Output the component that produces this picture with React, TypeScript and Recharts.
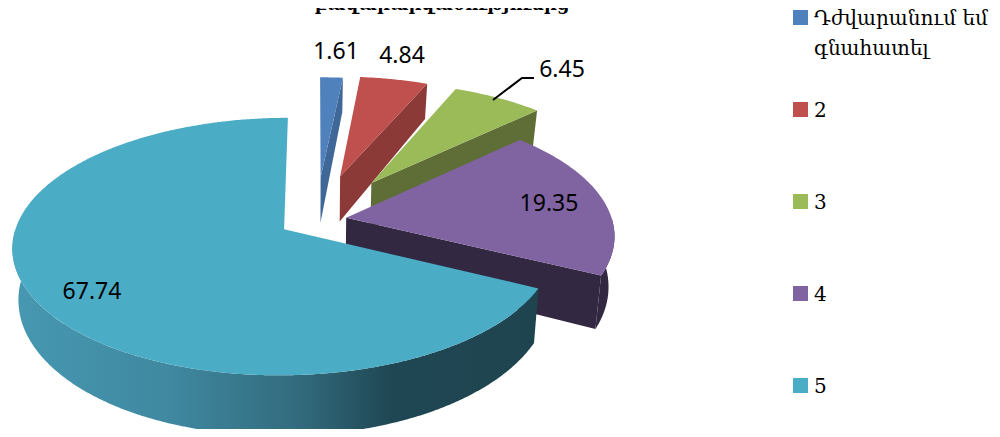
import React from "react";
import { PieChart, Pie, Legend } from "recharts";

const categories = ["Դժվարանում եմ գնահատել", "2", "3", "4", "5"];
const values = [1.61, 4.84, 6.45, 19.35, 67.74];
const chartTitle = "բավարարվածությունից";

// colours and how far each slice is pulled out of the pie
const faceColors = ["#4F81BD", "#C0504D", "#9BBB59", "#8064A2", "#4BACC6"];
const wallColors = ["#3F6898", "#8C3A37", "#5E6E36", "#332842", "url(#tealWall)"];
const explode = [0.36, 0.38, 0.38, 0.115, 0.14];
const labelSpots = [
  [336, 59],
  [402, 63],
  [562, 77],
  [549, 211],
  [92, 299],
];

const data = categories.map((name, i) => ({
  name,
  value: values[i],
  fill: faceColors[i],
  wall: wallColors[i],
  explode: explode[i],
}));

const TILT = 0.466; // vertical squash of the disc
const PERSP = 0.133; // back of the disc is smaller than the front
const DEPTH = 49;

function Slice3D(props: any) {
  const { cx, cy, outerRadius, startAngle, endAngle, fill, wall } = props;
  const boom = props.explode ?? 0;
  // recharts angles -> clockwise from the top
  const a0 = 90 - startAngle;
  const a1 = 90 - endAngle;
  const mid = ((a0 + a1) / 2) * (Math.PI / 180);
  const ou = boom * Math.sin(mid);
  const ov = boom * Math.cos(mid);

  const top = (u: number, v: number) => {
    const f = 1 / (1 + PERSP * v);
    return [cx + outerRadius * u * f, cy - outerRadius * TILT * v * f];
  };
  const bottom = (u: number, v: number) => {
    const [x, y] = top(u, v);
    return [cx + (x - cx) * 0.98, y + DEPTH * (1 - 0.22 * v)];
  };
  const rim = (deg: number): [number, number] => {
    const r = (deg * Math.PI) / 180;
    return [ou + Math.sin(r), ov + Math.cos(r)];
  };
  const toPath = (pts: number[][]) => "M" + pts.map((p) => p[0].toFixed(1) + " " + p[1].toFixed(1)).join("L") + "Z";
  const sweep = (from: number, to: number) => {
    const out: [number, number][] = [];
    const n = Math.max(2, Math.ceil((to - from) * 2));
    for (let i = 0; i <= n; i++) out.push(rim(from + ((to - from) * i) / n));
    return out;
  };

  const walls: string[] = [];
  const side = (deg: number) => {
    const [u, v] = rim(deg);
    walls.push(toPath([top(ou, ov), top(u, v), bottom(u, v), bottom(ou, ov)]));
  };
  // radial walls only show when they face the viewer
  if (Math.sin((a1 * Math.PI) / 180) > 0) side(a1);
  if (Math.sin((a0 * Math.PI) / 180) < 0) side(a0);

  const from = Math.max(a0, 90);
  const to = Math.min(a1, 270);
  let arcWall = "";
  if (to > from) {
    const arc = sweep(from, to);
    arcWall = toPath([...arc.map(([u, v]) => top(u, v)), ...arc.reverse().map(([u, v]) => bottom(u, v))]);
  }
  const face = toPath([top(ou, ov), ...sweep(a0, a1).map(([u, v]) => top(u, v))]);

  return (
    <g>
      {walls.map((d, i) => (
        <path key={i} d={d} fill={String(wall).startsWith("url") ? "#1E444F" : wall} />
      ))}
      {arcWall && <path d={arcWall} fill={wall} />}
      <path d={face} fill={fill} />
    </g>
  );
}

function SliceLabel(props: any) {
  const { index, value } = props;
  const [x, y] = labelSpots[index];
  return (
    <g>
      {index === 2 && <polyline points="493,100 522,78 534,78" fill="none" stroke="#000" strokeWidth={2} />}
      <text x={x} y={y} textAnchor="middle" fontFamily="Noto Sans" fontSize={23} fill="#000">
        {value}
      </text>
    </g>
  );
}

function LegendList() {
  return (
    <div style={{ fontFamily: "'DejaVu Serif', serif", color: "#000" }}>
      {data.map((d) => (
        <div key={d.name} style={{ display: "flex", height: 92, alignItems: "flex-start" }}>
          <span style={{ width: 15, height: 15, marginTop: 11, marginRight: 6, flex: "none", background: d.fill }} />
          <span style={{ fontSize: 20, lineHeight: "30px", marginTop: 4, width: 186 }}>{d.name}</span>
        </div>
      ))}
    </div>
  );
}

export default function App() {
  return (
    <div style={{ margin: -8, width: 1000, height: 437 }}>
      <PieChart width={1000} height={437} margin={{ top: 0, right: 0, bottom: 0, left: 0 }}>
        <defs>
          <linearGradient id="tealWall" x1="0" y1="0" x2="1" y2="0">
            <stop offset="0" stopColor="#4798B2" />
            <stop offset="0.3" stopColor="#3F88A0" />
            <stop offset="0.55" stopColor="#326A7C" />
            <stop offset="0.72" stopColor="#1F4753" />
            <stop offset="1" stopColor="#1E444F" />
          </linearGradient>
        </defs>
        <text
          x={442}
          y={10}
          textAnchor="middle"
          fontFamily="'DejaVu Serif', serif"
          fontWeight="bold"
          fontSize={21}
          textLength={255}
          lengthAdjust="spacingAndGlyphs"
        >
          {chartTitle}
        </text>
        <Pie
          data={data}
          dataKey="value"
          nameKey="name"
          cx={316}
          cy={220}
          outerRadius={266}
          startAngle={90}
          endAngle={-270}
          stroke="none"
          shape={Slice3D}
          label={SliceLabel}
          labelLine={false}
          isAnimationActive={false}
        />
        <Legend content={<LegendList />} layout="vertical" wrapperStyle={{ left: 793, top: -1, width: 207 }} />
      </PieChart>
    </div>
  );
}
